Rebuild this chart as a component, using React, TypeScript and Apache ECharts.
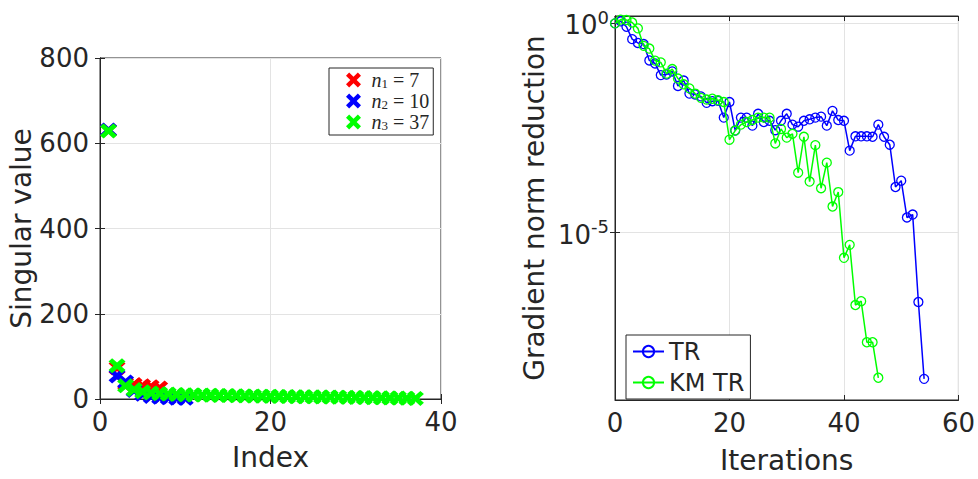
import React, { useEffect, useRef } from "react";
import * as echarts from "echarts";

// ---- Left panel: singular values ----
const svN1 = [630, 73, 36, 34, 31, 29, 26];
const svN2 = [631, 54, 40, 20, 11, 6, 4, 3, 2, 1.5];
const svN3 = [629, 78, 31, 22, 17, 14, 12.5, 11.5, 10.5, 10, 9.6, 9.2, 8.8, 8.3, 8, 7.7, 7.3, 7, 6.6, 6.3, 6.1, 5.8, 5.5, 5.2, 5, 4.7, 4.4, 4.2, 3.9, 3.6, 3.3, 3, 2.7, 2.4, 2.1, 1.7, 1.3];
const legendLeft = ["n1 = 7", "n2 = 10", "n3 = 37"];
const leftXTicks = [0, 20, 40];
const leftYTicks = [0, 200, 400, 600, 800];

// ---- Right panel: gradient norm reduction per iteration ----
const gradTR = [
  1.0, 1.12, 0.83, 0.42, 0.34, 0.32, 0.13, 0.11, 0.058, 0.06,
  0.071, 0.032, 0.043, 0.021, 0.02, 0.018, 0.0126, 0.0138, 0.0141, 0.0056,
  0.0132, 0.00275, 0.0056, 0.0056, 0.0036, 0.0069, 0.0044, 0.0047, 0.0028, 0.0047,
  0.0069, 0.0038, 0.0034, 0.0047, 0.0051, 0.0056, 0.0059, 0.0036, 0.0081, 0.0049,
  0.0047, 0.00091, 0.002, 0.002, 0.002, 0.00195, 0.0038, 0.00195, 0.00126, 0.000123,
  0.000174, 2.3e-5, 2.7e-5, 2.2e-7, 3.2e-9,
];
const gradKMTR = [
  1.0, 1.23, 1.2, 1.05, 0.76, 0.29, 0.25, 0.129, 0.117, 0.063,
  0.081, 0.048, 0.035, 0.028, 0.021, 0.0166, 0.0151, 0.0158, 0.0145, 0.0132,
  0.00166, 0.00275, 0.0038, 0.0044, 0.0049, 0.0056, 0.0056, 0.0056, 0.00135, 0.003,
  0.00186, 0.0023, 0.00027, 0.00195, 0.000166, 0.00123, 0.000115, 0.00047, 4.2e-5, 9.3e-5,
  2.5e-6, 5.1e-6, 1.86e-7, 2.3e-7, 2.4e-8, 2.4e-8, 3.4e-9,
];
const rightXTicks = [0, 20, 40, 60];
const rightYTicks = [1e-5, 1];

const FONT = "DejaVu Sans";
const SERIF = "Liberation Serif";
const AX = "#262626";
const GRID = "#e3e3e3";
const X_MARK =
  "path://M0,2.1L2.1,0L5,2.9L7.9,0L10,2.1L7.1,5L10,7.9L7.9,10L5,7.1L2.1,10L0,7.9L2.9,5Z";

const tickStyle = { show: true, inside: true, length: 5, lineStyle: { color: AX, width: 1 } };
const lineStyleAx = { show: true, lineStyle: { color: AX, width: 1 } };
const labelStyle = { fontFamily: FONT, fontSize: 26, color: AX };
const nameStyle = { fontFamily: FONT, fontSize: 28, color: AX };

export default function App() {
  const ref = useRef<HTMLDivElement>(null);
  useEffect(() => {
    if (!ref.current) return;
    const chart = echarts.init(ref.current, null, { renderer: "svg" });

    const leftSeries = [svN1, svN2, svN3].map((arr, si) => ({
      type: "scatter",
      name: legendLeft[si],
      xAxisIndex: 0,
      yAxisIndex: 0,
      symbol: X_MARK,
      symbolSize: [17, 15],
      clip: false,
      itemStyle: { color: ["#ff0000", "#0000ff", "#00ff00"][si], opacity: 1 },
      data: arr.map((v, i) => [i + 1, v]),
      z: 3 + si,
    }));

    const rightSeries = [gradTR, gradKMTR].map((arr, si) => {
      const c = si === 0 ? "#0000ff" : "#00ff00";
      return {
        type: "line",
        name: si === 0 ? "TR" : "KM TR",
        xAxisIndex: 2,
        yAxisIndex: 2,
        symbol: "circle",
        symbolSize: 9,
        showAllSymbol: true,
        clip: false,
        lineStyle: { color: c, width: 1.5 },
        itemStyle: { color: "rgba(255,255,255,0)", borderColor: c, borderWidth: 1.3 },
        data: arr.map((v, i) => [i, v]),
        z: 3 + si,
      };
    });

    const logFmt = (v: number) => {
      const e = Math.round(Math.log10(v));
      return "{b|10}{s|" + e + "}";
    };

    const option: any = {
      animation: false,
      backgroundColor: "#ffffff",
      grid: [
        { left: 100, top: 58, width: 341, height: 341, show: true, borderColor: AX, borderWidth: 1, backgroundColor: "transparent" },
        { left: 615, top: 16, width: 346, height: 394, show: true, borderColor: AX, borderWidth: 1, backgroundColor: "transparent" },
      ],
      xAxis: [
        {
          gridIndex: 0, type: "value", min: 0, max: 40, interval: 20,
          name: "Index", nameLocation: "middle", nameGap: 44, nameTextStyle: nameStyle,
          axisLine: lineStyleAx, axisTick: tickStyle,
          axisLabel: { ...labelStyle, margin: 10, customValues: leftXTicks },
          splitLine: { show: true, lineStyle: { color: GRID } },
        },
        {
          gridIndex: 0, type: "value", min: 0, max: 40, interval: 20, position: "top",
          axisLine: lineStyleAx, axisTick: tickStyle, axisLabel: { show: false }, splitLine: { show: false },
        },
        {
          gridIndex: 1, type: "value", min: 0, max: 60, interval: 20,
          name: "Iterations", nameLocation: "middle", nameGap: 46, nameTextStyle: nameStyle,
          axisLine: lineStyleAx, axisTick: tickStyle,
          axisLabel: { ...labelStyle, margin: 10, customValues: rightXTicks },
          splitLine: { show: true, lineStyle: { color: GRID } },
        },
        {
          gridIndex: 1, type: "value", min: 0, max: 60, interval: 20, position: "top",
          axisLine: lineStyleAx, axisTick: tickStyle, axisLabel: { show: false }, splitLine: { show: false },
        },
      ],
      yAxis: [
        {
          gridIndex: 0, type: "value", min: 0, max: 800, interval: 200,
          name: "Singular value", nameLocation: "middle", nameGap: 62, nameTextStyle: nameStyle,
          axisLine: lineStyleAx, axisTick: tickStyle,
          axisLabel: { ...labelStyle, margin: 11, customValues: leftYTicks },
          splitLine: { show: true, lineStyle: { color: GRID } },
        },
        {
          gridIndex: 0, type: "value", min: 0, max: 800, interval: 200, position: "right",
          axisLine: lineStyleAx, axisTick: tickStyle, axisLabel: { show: false }, splitLine: { show: false },
        },
        {
          gridIndex: 1, type: "log", logBase: 10, min: 1e-9, max: 1.5,
          name: "Gradient norm reduction", nameLocation: "middle", nameGap: 67, nameTextStyle: nameStyle,
          axisLine: lineStyleAx,
          axisTick: { ...tickStyle, customValues: rightYTicks },
          axisLabel: {
            margin: 6, customValues: rightYTicks, formatter: logFmt,
            rich: {
              b: { fontFamily: FONT, fontSize: 26, color: AX, lineHeight: 30, verticalAlign: "bottom" },
              s: { fontFamily: FONT, fontSize: 18, color: AX, lineHeight: 24, verticalAlign: "top" },
            },
          },
          splitLine: { show: true, lineStyle: { color: GRID } },
        },
        {
          gridIndex: 1, type: "log", logBase: 10, min: 1e-9, max: 1.5, position: "right",
          axisLine: lineStyleAx, axisTick: { ...tickStyle, customValues: rightYTicks },
          axisLabel: { show: false }, splitLine: { show: false },
        },
      ],
      legend: [
        {
          data: legendLeft,
          orient: "vertical",
          left: 329, top: 68,
          padding: [2, 4, 3, 17],
          itemGap: 1,
          itemWidth: 26, itemHeight: 15,
          icon: X_MARK,
          backgroundColor: "#ffffff",
          borderColor: AX, borderWidth: 1, borderRadius: 0,
          selectedMode: false,
          formatter: (name: string) => {
            const m = name.match(/n(\d) = (\d+)/);
            if (!m) return name;
            return "{i|n}{s|" + m[1] + "}{t| = " + m[2] + "}";
          },
          textStyle: {
            rich: {
              i: { fontFamily: SERIF, fontStyle: "italic", fontSize: 20, color: AX, lineHeight: 20, verticalAlign: "middle" },
              s: { fontFamily: SERIF, fontSize: 13, color: AX, lineHeight: 7, verticalAlign: "bottom" },
              t: { fontFamily: SERIF, fontSize: 20, color: AX, lineHeight: 20, verticalAlign: "middle" },
            },
          },
        },
        {
          data: ["TR", "KM TR"],
          orient: "vertical",
          left: 626, top: 335,
          padding: [4, 6, 4, 6],
          itemGap: 6,
          itemWidth: 31, itemHeight: 14,
          backgroundColor: "#ffffff",
          borderColor: AX, borderWidth: 1, borderRadius: 0,
          selectedMode: false,
          textStyle: { fontFamily: FONT, fontSize: 24, color: AX, lineHeight: 25 },
        },
      ],
      series: [...leftSeries, ...rightSeries],
    };
    chart.setOption(option);
    return () => chart.dispose();
  }, []);
  return (
    <div
      ref={ref}
      style={{ position: "fixed", left: 0, top: 0, width: 978, height: 479, background: "#fff" }}
    />
  );
}
